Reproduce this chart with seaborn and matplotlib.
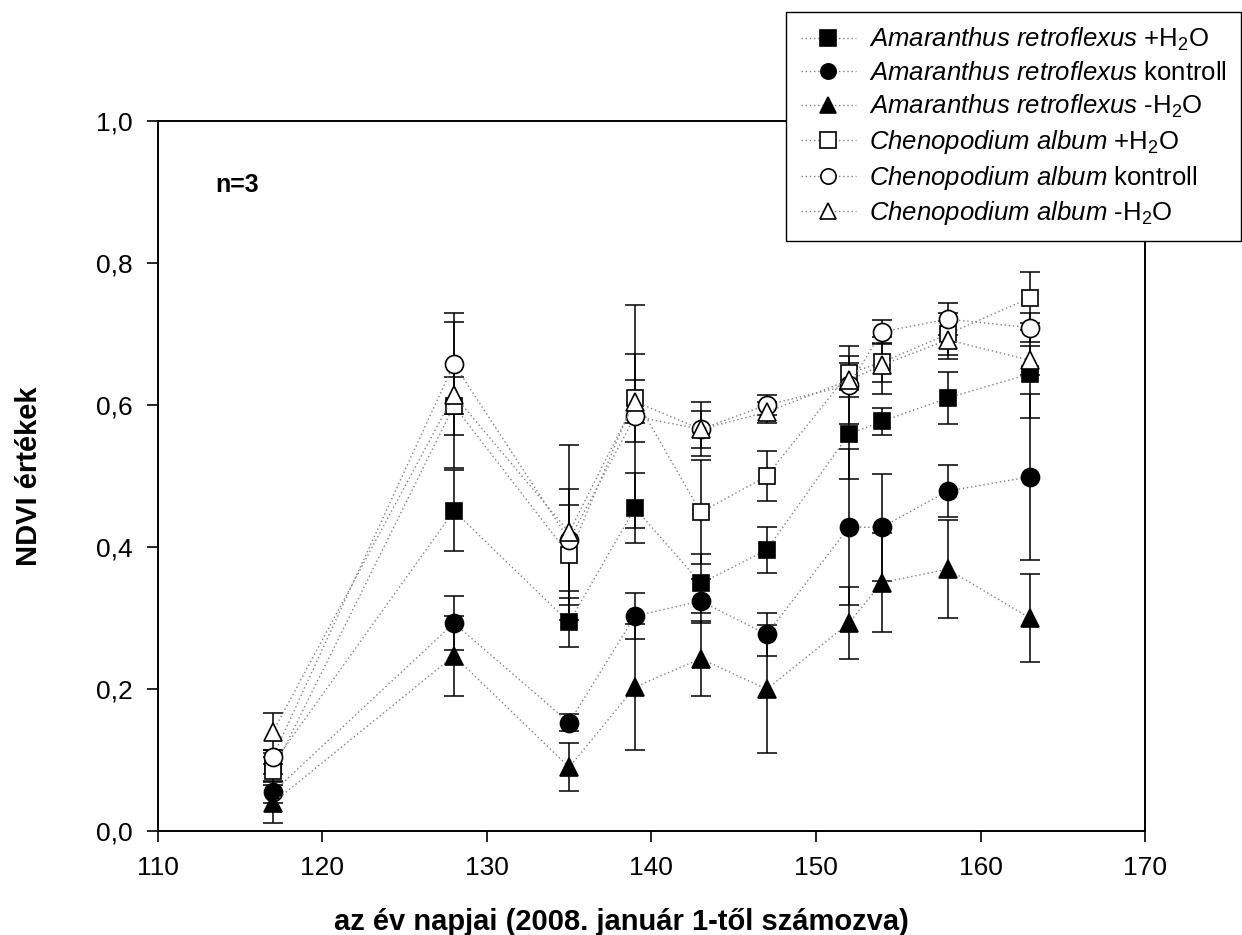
import numpy as np
import pandas as pd
import matplotlib
matplotlib.use("Agg")
import matplotlib.pyplot as plt
import seaborn as sns

days = [117, 128, 135, 139, 143, 147, 152, 154, 158, 163]

ar_plus = [0.095, 0.451, 0.294, 0.455, 0.349, 0.396, 0.559, 0.577, 0.610, 0.644]
ar_plus_err = [0.015, 0.057, 0.034, 0.049, 0.042, 0.033, 0.063, 0.019, 0.037, 0.062]
ar_ctrl = [0.055, 0.293, 0.153, 0.303, 0.324, 0.277, 0.428, 0.428, 0.479, 0.499]
ar_ctrl_err = [0.015, 0.038, 0.012, 0.032, 0.031, 0.030, 0.110, 0.075, 0.037, 0.117]
ar_minus = [0.040, 0.247, 0.090, 0.203, 0.243, 0.200, 0.293, 0.350, 0.369, 0.300]
ar_minus_err = [0.029, 0.056, 0.034, 0.089, 0.053, 0.090, 0.051, 0.070, 0.069, 0.062]
ca_plus = [0.085, 0.599, 0.389, 0.610, 0.449, 0.500, 0.645, 0.660, 0.700, 0.751]
ca_plus_err = [0.020, 0.041, 0.070, 0.062, 0.073, 0.035, 0.024, 0.027, 0.030, 0.036]
ca_ctrl = [0.105, 0.658, 0.410, 0.584, 0.566, 0.600, 0.628, 0.703, 0.721, 0.709]
ca_ctrl_err = [0.010, 0.071, 0.072, 0.157, 0.038, 0.014, 0.055, 0.017, 0.023, 0.020]
ca_minus = [0.140, 0.614, 0.421, 0.605, 0.566, 0.590, 0.635, 0.656, 0.692, 0.663]
ca_minus_err = [0.026, 0.103, 0.123, 0.030, 0.026, 0.015, 0.024, 0.040, 0.027, 0.020]

labels = [
    r"$\mathit{Amaranthus\ retroflexus}$ +H$_2$O",
    r"$\mathit{Amaranthus\ retroflexus}$ kontroll",
    r"$\mathit{Amaranthus\ retroflexus}$ -H$_2$O",
    r"$\mathit{Chenopodium\ album}$ +H$_2$O",
    r"$\mathit{Chenopodium\ album}$ kontroll",
    r"$\mathit{Chenopodium\ album}$ -H$_2$O",
]
values = [ar_plus, ar_ctrl, ar_minus, ca_plus, ca_ctrl, ca_minus]
errors = [ar_plus_err, ar_ctrl_err, ar_minus_err, ca_plus_err, ca_ctrl_err, ca_minus_err]
markers = ["s", "o", "^", "s", "o", "^"]
faces = ["black", "black", "black", "white", "white", "white"]

sns.set_theme(style="ticks")
plt.rcParams["font.family"] = ["Liberation Sans", "DejaVu Sans"]
plt.rcParams["mathtext.fontset"] = "custom"
plt.rcParams["mathtext.rm"] = "Liberation Sans"
plt.rcParams["mathtext.it"] = "Liberation Sans:italic"
plt.rcParams["mathtext.bf"] = "Liberation Sans:bold"
for k in ["text.color", "axes.labelcolor", "xtick.color", "ytick.color", "axes.edgecolor"]:
    plt.rcParams[k] = "black"

fig = plt.figure(figsize=(12.42, 9.35), dpi=100)
ax = fig.add_axes([0.127, 0.111, 0.795, 0.7596])

frames = []
for lab, v, e in zip(labels, values, errors):
    frames.append(pd.DataFrame({"day": days, "ndvi": v, "err": e, "series": lab}))
df = pd.concat(frames, ignore_index=True)

# error bars
for lab in labels:
    sub = df[df["series"] == lab]
    ax.errorbar(sub["day"], sub["ndvi"], yerr=sub["err"], fmt="none",
                ecolor="black", elinewidth=1.1, capsize=7, capthick=1.1, zorder=2)

for i, (lab, m, fc) in enumerate(zip(labels, markers, faces)):
    sub = df[df["series"] == lab]
    ms = 12 if m == "s" else 13
    sns.lineplot(data=sub, x="day", y="ndvi", ax=ax, color="#808080",
                 linestyle=(0, (1, 2)), linewidth=1.0, marker=m, markersize=ms,
                 markerfacecolor=fc, markeredgecolor="black", markeredgewidth=1.2,
                 label=lab, zorder=3 + i, sort=False, errorbar=None)

ax.set_xlim(110, 170)
ax.set_ylim(0, 1.0)
ax.set_xticks([110, 120, 130, 140, 150, 160, 170])
ax.set_yticks([0.0, 0.2, 0.4, 0.6, 0.8, 1.0])
ax.set_yticklabels(["0,0", "0,2", "0,4", "0,6", "0,8", "1,0"])
ax.tick_params(axis="both", direction="out", length=8, width=1.2, labelsize=19,
               colors="black", pad=10)
for s in ax.spines.values():
    s.set_linewidth(1.4)
    s.set_color("black")

ax.set_xlabel("az év napjai (2008. január 1-től számozva)", fontsize=21,
              fontweight="bold", labelpad=20, x=0.47)
ax.set_ylabel("NDVI értékek", fontsize=21, fontweight="bold", labelpad=38)

ax.text(0.058, 0.91, "n=3", transform=ax.transAxes, fontsize=18, fontweight="bold",
        ha="left", va="center")

leg = ax.legend(loc="upper right", bbox_to_anchor=(0.999, 0.987),
                bbox_transform=fig.transFigure, fontsize=18.5, frameon=True,
                fancybox=False, edgecolor="black", framealpha=1,
                handlelength=2.15, borderpad=0.55, labelspacing=0.3, handletextpad=0.5,
                borderaxespad=0)
leg.get_frame().set_linewidth(1.0)
for h in leg.legend_handles:
    h.set_markersize(11)

fig.savefig("out.png", dpi=100)
